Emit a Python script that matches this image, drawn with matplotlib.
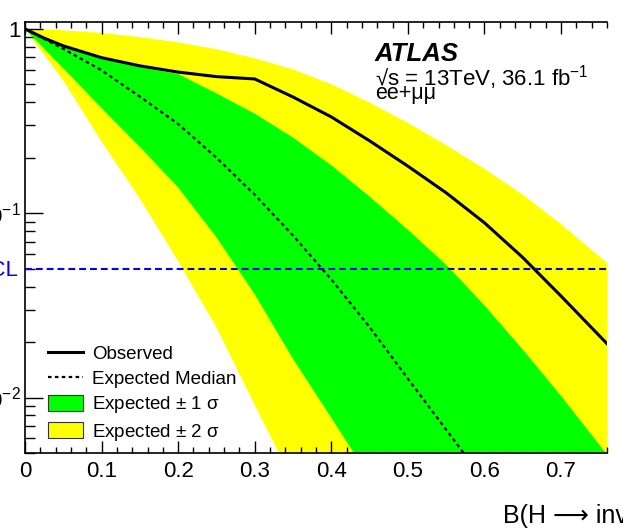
import numpy as np
import matplotlib
matplotlib.use("Agg")
import matplotlib.pyplot as plt
from matplotlib.lines import Line2D
from matplotlib.patches import Patch
from matplotlib.ticker import FixedLocator, FixedFormatter, MultipleLocator, LogLocator, NullFormatter

plt.rcParams['font.family'] = ['Liberation Sans', 'DejaVu Sans']
plt.rcParams['mathtext.fontset'] = 'custom'
plt.rcParams['mathtext.rm'] = 'Liberation Sans'
plt.rcParams['mathtext.it'] = 'Liberation Sans:italic'
plt.rcParams['mathtext.bf'] = 'Liberation Sans:bold'

# CLs scan vs B(H -> inv), ee+mumu channel
b_obs = [0.0, 0.025, 0.05, 0.10, 0.15, 0.20, 0.25, 0.30, 0.35, 0.40, 0.45, 0.50, 0.55, 0.60, 0.65, 0.70, 0.76]
cls_obs = [1.0, 0.891, 0.809, 0.698, 0.630, 0.583, 0.551, 0.535, 0.427, 0.333, 0.247, 0.180, 0.129, 0.0887, 0.0575, 0.0355, 0.0196]

b_exp = [0.0, 0.025, 0.05, 0.10, 0.15, 0.20, 0.25, 0.30, 0.35, 0.40, 0.45, 0.50, 0.55, 0.58]
cls_exp = [1.0, 0.883, 0.780, 0.596, 0.429, 0.305, 0.200, 0.126, 0.0757, 0.0437, 0.0241, 0.01265, 0.00668, 0.00457]

b_1s_up = [0.0, 0.025, 0.05, 0.10, 0.15, 0.20, 0.25, 0.30, 0.35, 0.40, 0.45, 0.50, 0.55, 0.60, 0.65, 0.70, 0.76]
cls_1s_up = [1.0, 0.885, 0.803, 0.689, 0.619, 0.569, 0.447, 0.347, 0.257, 0.182, 0.123, 0.0813, 0.0525, 0.0316, 0.0182, 0.0102, 0.0049]
b_1s_dn = [0.0, 0.025, 0.05, 0.10, 0.15, 0.20, 0.25, 0.30, 0.35, 0.40, 0.44]
cls_1s_dn = [1.0, 0.782, 0.611, 0.372, 0.229, 0.138, 0.0741, 0.0363, 0.0162, 0.00776, 0.00427]

b_2s_up = [0.0, 0.025, 0.05, 0.10, 0.15, 0.20, 0.25, 0.30, 0.35, 0.40, 0.45, 0.50, 0.55, 0.60, 0.65, 0.70, 0.76]
cls_2s_up = [1.0, 0.993, 0.982, 0.951, 0.902, 0.845, 0.776, 0.692, 0.603, 0.501, 0.398, 0.309, 0.234, 0.174, 0.126, 0.0871, 0.0537]
b_2s_dn = [0.0, 0.025, 0.05, 0.10, 0.15, 0.20, 0.25, 0.30, 0.335]
cls_2s_dn = [1.0, 0.724, 0.525, 0.245, 0.120, 0.0550, 0.0240, 0.00912, 0.00468]

cl_level = 0.05
y_min, y_max = 0.005, 1.09


def band(ax, b_up, up, b_dn, dn, color, z):
    # close the polygon below the visible range so the edge is never seen
    floor = y_min * 0.1
    xs = np.concatenate([b_up, [b_up[-1], b_dn[-1]], b_dn[::-1]])
    ys = np.concatenate([up, [floor, floor], dn[::-1]])
    ax.fill(xs, ys, color=color, lw=0, zorder=z)


W, H = 623, 530
fig = plt.figure(figsize=(W / 100, H / 100), dpi=100)
ax = fig.add_axes([25 / W, 1 - 453 / H, 582 / W, 431 / H])

band(ax, b_2s_up, cls_2s_up, b_2s_dn, cls_2s_dn, (1, 1, 0), 1)
band(ax, b_1s_up, cls_1s_up, b_1s_dn, cls_1s_dn, (0, 1, 0), 2)
ax.plot(b_exp, cls_exp, color='black', lw=1.6, ls=(0, (1.6, 1.5)), zorder=3)
ax.plot(b_obs, cls_obs, color='black', lw=2.2, zorder=4)
ax.axhline(cl_level, color=(0, 0, 1), lw=1.5, ls=(0, (3.3, 1.9)), zorder=5)

ax.set_yscale('log')
ax.set_xlim(0, 0.76)
ax.set_ylim(y_min, y_max)

ax.xaxis.set_major_locator(FixedLocator([0, 0.1, 0.2, 0.3, 0.4, 0.5, 0.6, 0.7]))
ax.xaxis.set_major_formatter(FixedFormatter(['0', '0.1', '0.2', '0.3', '0.4', '0.5', '0.6', '0.7']))
ax.xaxis.set_minor_locator(MultipleLocator(0.02))
ax.yaxis.set_major_locator(FixedLocator([0.01, 0.1, 1]))
ax.yaxis.set_major_formatter(FixedFormatter(['$10^{-2}$', '$10^{-1}$', '1']))
ax.yaxis.set_minor_locator(LogLocator(base=10, subs=np.arange(2, 10)))
ax.yaxis.set_minor_formatter(NullFormatter())

ax.tick_params(axis='x', which='major', direction='in', length=8.6, width=1, top=True, labelsize=16, pad=6)
ax.tick_params(axis='x', which='minor', direction='in', length=4.3, width=1, top=True)
ax.tick_params(axis='y', which='major', direction='in', length=13, width=1, right=False, labelsize=16, pad=3)
ax.tick_params(axis='y', which='minor', direction='in', length=7, width=1, right=False)
ax.spines['right'].set_visible(False)
for s in ['left', 'bottom', 'top']:
    ax.spines[s].set_linewidth(1.2)

fig.text(18 / W, 1 - 270 / H, '95% CL', color=(0, 0, 1), fontsize=16, ha='right', va='center')
fig.text(503 / W, 1 - 516 / H, 'B(H \u27f6 inv)', fontsize=18, ha='left', va='center')

fig.text(375 / W, 1 - 61 / H, 'ATLAS', fontsize=18.5, fontweight='bold', fontstyle='italic', ha='left', va='baseline')
fig.text(375 / W, 1 - 85 / H, '\u221as = 13TeV, 36.1 fb$^{-1}$', fontsize=16, ha='left', va='baseline')
fig.text(375 / W, 1 - 99 / H, 'ee+\u03bc\u03bc', fontsize=15.5, ha='left', va='baseline')

handles = [Line2D([], [], color='black', lw=2.2),
           Line2D([], [], color='black', lw=1.6, ls=(0, (1.6, 1.5))),
           Patch(facecolor=(0, 1, 0), edgecolor='#333333', lw=0.8),
           Patch(facecolor=(1, 1, 0), edgecolor='#333333', lw=0.8)]
labels = ['Observed', 'Expected Median', 'Expected $\\pm$ 1 \u03c3', 'Expected $\\pm$ 2 \u03c3']
ax.legend(handles, labels, loc='upper left', bbox_to_anchor=(48 / W, 1 - 345 / H),
          bbox_transform=fig.transFigure, frameon=False, fontsize=13.5,
          handlelength=1.85, handleheight=0.9, handletextpad=0.5,
          labelspacing=0.34, borderpad=0, borderaxespad=0)

fig.savefig('out.png', dpi=100)
